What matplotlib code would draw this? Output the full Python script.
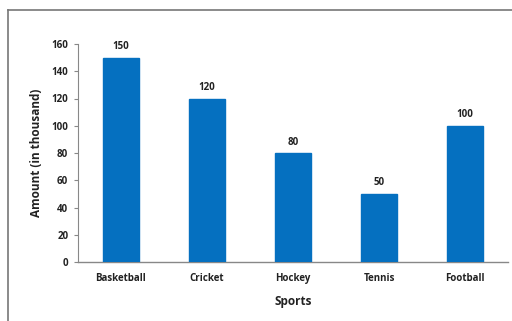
import matplotlib
matplotlib.use("Agg")
import matplotlib.pyplot as plt
from matplotlib.lines import Line2D

categories = ["Basketball", "Cricket", "Hockey", "Tennis", "Football"]
values = [150, 120, 80, 50, 100]
yticks = [0, 20, 40, 60, 80, 100, 120, 140, 160]

plt.rcParams['font.family'] = ['Open Sans', 'DejaVu Sans']

fig = plt.figure(figsize=(5.12, 3.21), dpi=100)
ax = fig.add_axes([78/512, 1-262/321, 430/512, 218/321])

x = list(range(len(categories)))
bars = ax.bar(x, values, width=0.41, color="#0570C0", edgecolor="#0570C0", zorder=3)
for xi, v in zip(x, values):
    ax.text(xi, v + 4, str(v), ha="center", va="bottom", fontsize=7, fontweight="bold", color="#222222")

ax.set_xlim(-0.5, len(categories) - 0.5)
ax.set_ylim(0, 160)
ax.set_yticks(yticks)
ax.set_yticklabels([str(t) for t in yticks], fontsize=7, fontweight="bold", color="#222222")
ax.set_xticks(x)
ax.set_xticklabels(categories, fontsize=7, fontweight="bold", color="#222222")
ax.tick_params(axis="x", length=0, pad=8)
ax.tick_params(axis="y", length=3, color="#888888", direction="out", pad=4)
for s in ["top", "right"]:
    ax.spines[s].set_visible(False)
ax.spines["left"].set_color("#888888")
ax.spines["bottom"].set_color("#888888")
ax.spines["left"].set_linewidth(0.8)
ax.spines["bottom"].set_linewidth(1.0)

ax.set_ylabel("Amount (in thousand)", fontsize=8.5, fontweight="bold", color="#222222", labelpad=6)
ax.set_xlabel("Sports", fontsize=8.5, fontweight="bold", color="#222222", labelpad=8)

# outer chart border (top and left visible)
fig.add_artist(Line2D([8/512, 8/512], [0, 1-10/321], transform=fig.transFigure, color="#777777", lw=1.2))
fig.add_artist(Line2D([8/512, 1], [1-10/321, 1-10/321], transform=fig.transFigure, color="#777777", lw=1.2))

fig.savefig("out.png", dpi=100)
